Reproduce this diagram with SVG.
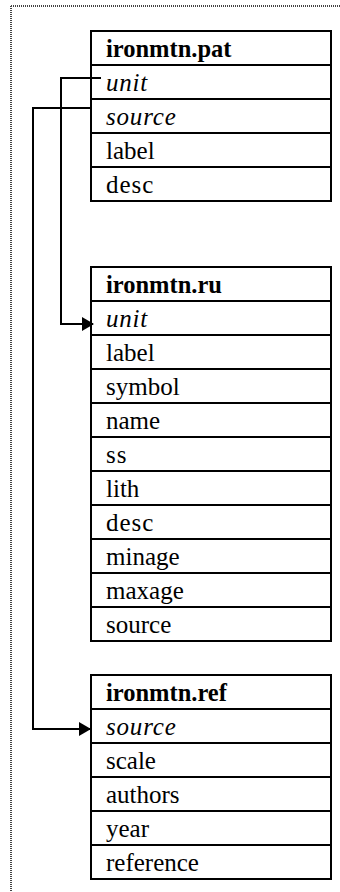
<svg xmlns="http://www.w3.org/2000/svg" width="340" height="892" viewBox="0 0 340 892">
<style>
.box{fill:#fff;stroke:#000;stroke-width:2}
.sep{stroke:#000;stroke-width:2}
.t{font-family:"Liberation Serif","Times New Roman",Times,serif;font-size:25px;fill:#000}
.h{font-weight:bold;font-size:24.5px}
.i{font-style:italic;letter-spacing:0.8px}
.w{letter-spacing:1px}
.conn{fill:none;stroke:#000;stroke-width:2}
.frame{fill:none;stroke:#444;stroke-width:2;stroke-dasharray:1 1}
</style>
<defs>
<marker id="arr" markerWidth="12" markerHeight="14" refX="11" refY="7" orient="auto" markerUnits="userSpaceOnUse">
<path d="M0,0 L12,7 L0,14 Z" fill="#000"/>
</marker>
</defs>
<g id="frame">
<line class="frame" x1="11" y1="6" x2="340" y2="6"/>
<line class="frame" x1="11" y1="6" x2="11" y2="892"/>
</g>
<g id="ironmtn.pat" font-family="Liberation Serif, serif">
<rect class="box" x="91" y="31" width="240" height="170"/>
<line class="sep" x1="91" y1="65" x2="331" y2="65"/>
<line class="sep" x1="91" y1="99" x2="331" y2="99"/>
<line class="sep" x1="91" y1="133" x2="331" y2="133"/>
<line class="sep" x1="91" y1="167" x2="331" y2="167"/>
<text class="t h" x="106" y="57">ironmtn.pat</text>
<text class="t i" x="106" y="91">unit</text>
<text class="t i" x="106" y="125">source</text>
<text class="t" x="106" y="159">label</text>
<text class="t w" x="106" y="193">desc</text>
</g>
<g id="ironmtn.ru" font-family="Liberation Serif, serif">
<rect class="box" x="91" y="267" width="240" height="374"/>
<line class="sep" x1="91" y1="301" x2="331" y2="301"/>
<line class="sep" x1="91" y1="335" x2="331" y2="335"/>
<line class="sep" x1="91" y1="369" x2="331" y2="369"/>
<line class="sep" x1="91" y1="403" x2="331" y2="403"/>
<line class="sep" x1="91" y1="437" x2="331" y2="437"/>
<line class="sep" x1="91" y1="471" x2="331" y2="471"/>
<line class="sep" x1="91" y1="505" x2="331" y2="505"/>
<line class="sep" x1="91" y1="539" x2="331" y2="539"/>
<line class="sep" x1="91" y1="573" x2="331" y2="573"/>
<line class="sep" x1="91" y1="607" x2="331" y2="607"/>
<text class="t h" x="106" y="293">ironmtn.ru</text>
<text class="t i" x="106" y="327">unit</text>
<text class="t" x="106" y="361">label</text>
<text class="t" x="106" y="395">symbol</text>
<text class="t" x="106" y="429">name</text>
<text class="t w" x="106" y="463">ss</text>
<text class="t" x="106" y="497">lith</text>
<text class="t w" x="106" y="531">desc</text>
<text class="t" x="106" y="565">minage</text>
<text class="t" x="106" y="599">maxage</text>
<text class="t" x="106" y="633">source</text>
</g>
<g id="ironmtn.ref" font-family="Liberation Serif, serif">
<rect class="box" x="91" y="675" width="240" height="204"/>
<line class="sep" x1="91" y1="709" x2="331" y2="709"/>
<line class="sep" x1="91" y1="743" x2="331" y2="743"/>
<line class="sep" x1="91" y1="777" x2="331" y2="777"/>
<line class="sep" x1="91" y1="811" x2="331" y2="811"/>
<line class="sep" x1="91" y1="845" x2="331" y2="845"/>
<text class="t h" x="106" y="701">ironmtn.ref</text>
<text class="t i" x="106" y="735">source</text>
<text class="t" x="106" y="769">scale</text>
<text class="t" x="106" y="803">authors</text>
<text class="t" x="106" y="837">year</text>
<text class="t" x="106" y="871">reference</text>
</g>
<g id="connectors">
<path class="conn" d="M101,78 L61,78 L61,324 L93,324" marker-end="url(#arr)"/>
<path class="conn" d="M91,108 L33,108 L33,729 L90,729" marker-end="url(#arr)"/>
</g>
</svg>
